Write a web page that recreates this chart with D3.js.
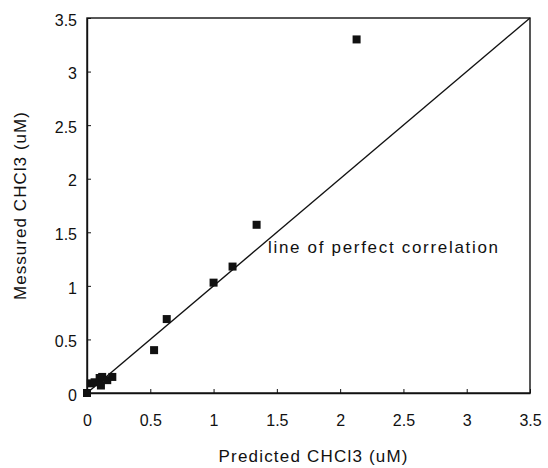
<!DOCTYPE html>
<html><head><meta charset="utf-8">
<script src="https://cdn.jsdelivr.net/npm/d3@7/dist/d3.min.js"></script>
<style>body{margin:0;background:#fff}text{font-family:"Liberation Sans",Arial,sans-serif;fill:#111}</style>
</head><body><svg id="c" width="548" height="468"></svg>
<script>
const predicted = [2.13, 1.34, 1.15, 1.00, 0.63, 0.53, 0.00, 0.03, 0.06, 0.10, 0.11, 0.12, 0.16, 0.20];
const measured  = [3.30, 1.57, 1.18, 1.03, 0.69, 0.40, 0.00, 0.09, 0.10, 0.14, 0.07, 0.15, 0.12, 0.15];
const tickValues = [0, 0.5, 1, 1.5, 2, 2.5, 3, 3.5];
const tickLabels = ["0", "0.5", "1", "1.5", "2", "2.5", "3", "3.5"];
const perfectLine = [0, 3.5];
const xTitle = "Predicted CHCl3 (uM)";
const yTitle = "Messured CHCl3 (uM)";
const note = "line of perfect correlation";

const svg = d3.select("#c");
const x = d3.scaleLinear().domain([0, 3.5]).range([87, 530]);
const y = d3.scaleLinear().domain([0, 3.5]).range([393, 18]);

// frame
svg.append("rect").attr("x", x(0)).attr("y", y(3.5)).attr("width", x(3.5)-x(0)).attr("height", y(0)-y(3.5))
  .attr("fill", "none").attr("stroke", "#111").attr("stroke-width", 1.4);

const fmt = d => tickLabels[tickValues.indexOf(d)];
const xa = svg.append("g").attr("transform", `translate(0,${y(0)})`)
  .call(d3.axisBottom(x).tickValues(tickValues).tickFormat(fmt).tickSizeInner(-4).tickSizeOuter(0).tickPadding(22));
const ya = svg.append("g").attr("transform", `translate(${x(0)},0)`)
  .call(d3.axisLeft(y).tickValues(tickValues).tickFormat(fmt).tickSizeInner(-4).tickSizeOuter(0).tickPadding(10));
[xa, ya].forEach(a => {
  a.select(".domain").attr("stroke", "#111").attr("stroke-width", 1.4);
  a.selectAll(".tick line").attr("stroke", "#111");
  a.selectAll(".tick text").attr("font-size", 16).attr("fill", "#222")
    .style("font-family", '"Liberation Sans", Arial, sans-serif');
});
ya.selectAll(".tick text").attr("dy", "0.45em");

// perfect correlation line
svg.append("line").attr("x1", x(perfectLine[0])).attr("y1", y(perfectLine[0]))
  .attr("x2", x(perfectLine[1])).attr("y2", y(perfectLine[1]))
  .attr("stroke", "#111").attr("stroke-width", 1.4);

// points
svg.append("g").selectAll("rect").data(predicted.map((p, i) => [p, measured[i]])).join("rect")
  .attr("x", d => x(d[0]) - 4).attr("y", d => y(d[1]) - 4)
  .attr("width", 8).attr("height", 8).attr("fill", "#111");

// titles
svg.append("text").attr("x", 313).attr("y", 462).attr("text-anchor", "middle").attr("fill", "#222")
  .attr("font-size", 17).attr("textLength", 189).attr("lengthAdjust", "spacing").text(xTitle);
svg.append("text").attr("transform", "translate(26,206) rotate(-90)").attr("text-anchor", "middle").attr("fill", "#222")
  .attr("font-size", 17).attr("textLength", 188).attr("lengthAdjust", "spacing").text(yTitle);
svg.append("text").attr("x", 268).attr("y", 253).attr("fill", "#222")
  .attr("font-size", 17).attr("textLength", 230).attr("lengthAdjust", "spacing").text(note);
</script></body></html>
